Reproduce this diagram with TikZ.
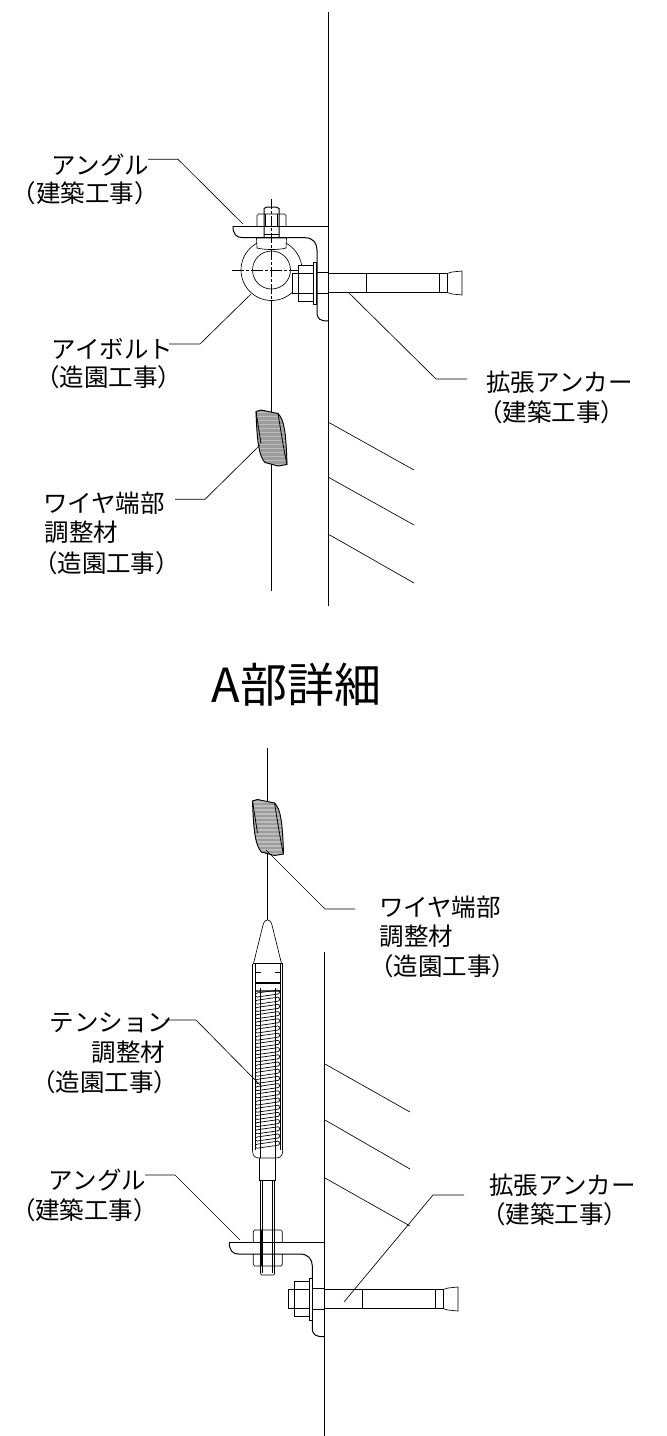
\documentclass[tikz,border=0pt]{standalone}
\usepackage{fontspec}
\setmainfont{Noto Sans CJK JP}
\tikzset{
 x=1pt,y=-1pt,
 ln/.style={line width=1pt,black},
 thn/.style={line width=0.65pt,black},
 lead/.style={line width=0.65pt,black},
 lab/.style={font=\fontsize{24.5pt}{28pt}\selectfont,inner sep=0pt,anchor=center},
}
\newcommand{\anchorbolt}[2]{% x of wall, y of centre
 \begin{scope}[shift={(#1,#2)}]
  \draw[ln] (0,-9.5) -- (38,-9.5) (0,9.5) -- (38,9.5);
  \draw[thn] (38,-9.5) -- (38,9.5);
  \draw[thn] (111,-9.5) rectangle (119,9.5);
  \draw[thn] (38,-9.5) -- (111,-9.5) (38,9.5) -- (111,9.5);
  \draw[thn] (119,-9.5) -- (124,-11) -- (134,-12) -- (134,12) -- (124,11) -- (119,9.5);
 \end{scope}}
\newcommand{\bladder}[2]{%
 \begin{scope}[shift={(#1,#2)}]
  \begin{scope}
  \clip (0,0) -- (5,-1.5) -- (22,2) .. controls (28,8) and (30,20) .. (31,53) -- (22,54.5) -- (9,51) .. controls (3,45) and (1,30) .. (0,0) -- cycle;
  \fill[gray!78] (-2,-3) rectangle (33,57);
  \foreach \yy in {1,5,...,57}{\draw[gray!52,line width=1.6pt] (-2,\yy) -- (33,\yy);}
  \end{scope}
  \draw[line width=0.95pt] (0,0) -- (5,-1.5) -- (22,2) .. controls (28,8) and (30,20) .. (31,53) -- (22,54.5) -- (9,51) .. controls (3,45) and (1,30) .. (0,0) -- cycle;
  \draw[line width=0.8pt] (0,0) -- (5,32);
  \draw[line width=0.8pt] (22,2) .. controls (25,20) and (28,40) .. (31,53);
 \end{scope}}
\begin{document}
\begin{tikzpicture}
\useasboundingbox (0,0) rectangle (667,1436);
\fill[white] (0,0) rectangle (667,1436);
% ---- upper detail
\draw[ln] (328,12) -- (328,606);
\draw[ln] (271.5,300) -- (271.5,420);
\draw[ln] (271.5,460) -- (271.5,591);
\draw[ln] (233,226) -- (328,226);
\draw[ln] (233,226) .. controls (233,234) and (236,237.7) .. (243,237.7) -- (305,237.7) .. controls (313,237.7) and (317,243) .. (317,250) -- (317,312) .. controls (317,319) and (320,321) .. (328,321);
% eye
\draw[thn] (271.5,270) circle (30.5);
\draw[thn] (271.5,270) circle (19);
\draw[thn,dash pattern=on 12pt off 2pt on 3pt off 2pt] (232,270) -- (313,270);
% bolt at top
\draw[thn,fill=white] (257,248) -- (256.5,238) -- (286.5,238) -- (286,248) .. controls (280,250) and (264,250) .. (257,248) -- cycle;
\draw[line width=1pt] (264,237) -- (264,208.5) -- (267,207) -- (276,207) -- (279,208.5) -- (279,237);
\draw[thn,rounded corners=1.5pt] (257,226) -- (257,214) -- (286,214) -- (286,226);
\draw[thn] (265.5,214) -- (265.5,226) (277.5,214) -- (277.5,226);
\draw[thn] (264,234) -- (279,234);
\draw[thn,dash pattern=on 10pt off 2pt on 3pt off 2pt] (271.5,199) -- (271.5,300);
% nut and anchor
\draw[thn,fill=white] (292,273) rectangle (298,293);
\draw[thn,fill=white] (298,265) rectangle (313,301);
\draw[thn] (298,273) -- (313,273) (298,293) -- (313,293);
\draw[line width=0.8pt,fill=white] (313.3,262) rectangle (316.7,304);
\draw[line width=0.9pt] (317,272.5) -- (328,272.5) (317,293.5) -- (328,293.5);
\anchorbolt{328}{283}
% roof lines
\draw[thn] (328,422) -- (414,470);
\draw[thn] (328,477) -- (414,525);
\draw[thn] (328,534) -- (414,583);
\bladder{256}{411.5}
% ---- lower detail
\draw[ln] (324,952) -- (324,1436);
\draw[ln] (267.4,748) -- (267.4,805) (267.4,850) -- (267.4,920);
\bladder{252.5}{801}
% tension body
\draw[thn] (253.5,963.5) -- (263,925) .. controls (265,918) and (270,918) .. (272,925) -- (281.5,963.5);
\draw[thn] (252.5,963.5) -- (282.8,963.5) (252.5,963.5) -- (252.5,1150) (282.8,963.5) -- (282.8,1150);
\draw[thn] (255,963.5) -- (255,1150) (280.5,963.5) -- (280.5,1150);
\draw[thn] (255,972) -- (261,972) (274.5,972) -- (280.5,972);
\draw[line width=1.3pt] (255,983) -- (280.5,983);
\draw[line width=2pt,gray!70!black] (256,991) -- (279.5,991);
\draw[thn] (260,988) -- (260,1158) (275,988) -- (275,1158);
\foreach \yy in {993,1000.2,...,1146}{
 \draw[line width=0.7pt] (257,\yy) -- (278,\yy-3) .. controls (280,\yy-3) and (280,\yy+1) .. (278,\yy+1) -- (257,\yy+4) .. controls (255,\yy+4) and (255,\yy) .. (257,\yy);
}
\draw[thn] (252.5,1150) .. controls (252.5,1156) and (255,1158) .. (259,1158) -- (276,1158) .. controls (280,1158) and (282.8,1156) .. (282.8,1150);
\draw[thn] (259,1158) -- (259,1180) -- (275.7,1180) -- (275.7,1158);
\draw[thn] (260.7,1180) -- (260.7,1273) (274.5,1180) -- (274.5,1273);
\draw[thn] (262.7,1180) -- (262.7,1273) (272.7,1180) -- (272.7,1273);
\draw[thn,rounded corners=1pt] (260.7,1270) -- (260.7,1275) -- (274.5,1275) -- (274.5,1270);
% lower angle
\draw[ln] (229.3,1242.3) -- (324,1242.3);
\draw[ln] (229.3,1242.3) .. controls (229.3,1250) and (232,1254) .. (239,1254) -- (300,1254) .. controls (308,1254) and (312.3,1259) .. (312.3,1266) -- (312.3,1328) .. controls (312.3,1335) and (316,1336.7) .. (324,1336.7);
\draw[thn,rounded corners=1.5pt] (253.3,1242.3) -- (253.3,1230) -- (282.3,1230) -- (282.3,1242.3);
\draw[thn,rounded corners=1.5pt] (253.3,1254) -- (253.3,1266) -- (282.3,1266) -- (282.3,1254);
\draw[line width=1pt] (261,1230) -- (261,1266) (274,1230) -- (274,1266);
% lower anchor
\draw[thn,fill=white] (288,1289) rectangle (294,1308);
\draw[thn,fill=white] (294,1281.7) rectangle (309.3,1316.7);
\draw[thn] (294,1289) -- (309.3,1289) (294,1308) -- (309.3,1308);
\draw[line width=0.8pt,fill=white] (309.3,1278) rectangle (312.7,1320);
\draw[line width=0.9pt] (313,1288.8) -- (324,1288.8) (313,1309) -- (324,1309);
\anchorbolt{324}{1299}
% roof lines lower
\draw[thn] (325,1064) -- (410,1112);
\draw[thn] (325,1120) -- (410,1169);
\draw[thn] (325,1178) -- (410,1226);
% title
\node[inner sep=0pt,font=\fontsize{47pt}{52pt}\selectfont] (title) at (296.5,685) {A部詳細};
% labels
\node[lab] (l1) at (100.5,165) {アングル};
\node[lab] (l1b) at (85.5,193) {（建築工事）};
\coordinate (l1s) at (148,159.3);
\coordinate (l1k) at (178,159.3);
\coordinate (l1e) at (243,224);
\draw[lead] (l1s) -- (l1k) -- (l1e);
\node[lab] (l2) at (112.5,349) {アイボルト};
\node[lab] (l2b) at (108.5,377) {（造園工事）};
\coordinate (l2s) at (169,344);
\coordinate (l2k) at (200,344);
\coordinate (l2e) at (251,294);
\draw[lead] (l2s) -- (l2k) -- (l2e);
\node[lab] (l3) at (559.5,382) {拡張アンカー};
\node[lab] (l3b) at (551.5,412) {（建築工事）};
\coordinate (l3s) at (467,379);
\coordinate (l3k) at (436,379);
\coordinate (l3e) at (348,292);
\draw[lead] (l3s) -- (l3k) -- (l3e);
\node[lab] (l4) at (104,503) {ワイヤ端部};
\node[lab] (l4a) at (81.5,532) {調整材};
\node[lab] (l4b) at (106.5,563) {（造園工事）};
\coordinate (l4s) at (175,499.3);
\coordinate (l4k) at (205,499.3);
\coordinate (l4e) at (260,445);
\draw[lead] (l4s) -- (l4k) -- (l4e);
\node[lab] (l5) at (440,907) {ワイヤ端部};
\node[lab] (l5a) at (416.5,936) {調整材};
\node[lab] (l5b) at (442.5,966) {（造園工事）};
\coordinate (l5s) at (355,909);
\coordinate (l5k) at (325,909);
\coordinate (l5e) at (266,850);
\draw[lead] (l5s) -- (l5k) -- (l5e);
\node[lab] (l6) at (111,1023) {テンション};
\node[lab] (l6a) at (128.5,1052) {調整材};
\node[lab] (l6b) at (104.5,1082) {（造園工事）};
\coordinate (l6s) at (165,1020);
\coordinate (l6k) at (196,1020);
\coordinate (l6e) at (262,1087);
\draw[lead] (l6s) -- (l6k) -- (l6e);
\node[lab] (l7) at (97.5,1180) {アングル};
\node[lab] (l7b) at (84.5,1210) {（建築工事）};
\coordinate (l7s) at (145,1175);
\coordinate (l7k) at (175,1175);
\coordinate (l7e) at (240,1240);
\draw[lead] (l7s) -- (l7k) -- (l7e);
\node[lab] (l8) at (562.5,1185) {拡張アンカー};
\node[lab] (l8b) at (554.5,1214) {（建築工事）};
\coordinate (l8s) at (464,1195);
\coordinate (l8k) at (433,1195);
\coordinate (l8e) at (344,1302);
\draw[lead] (l8s) -- (l8k) -- (l8e);
\end{tikzpicture}
\end{document}
